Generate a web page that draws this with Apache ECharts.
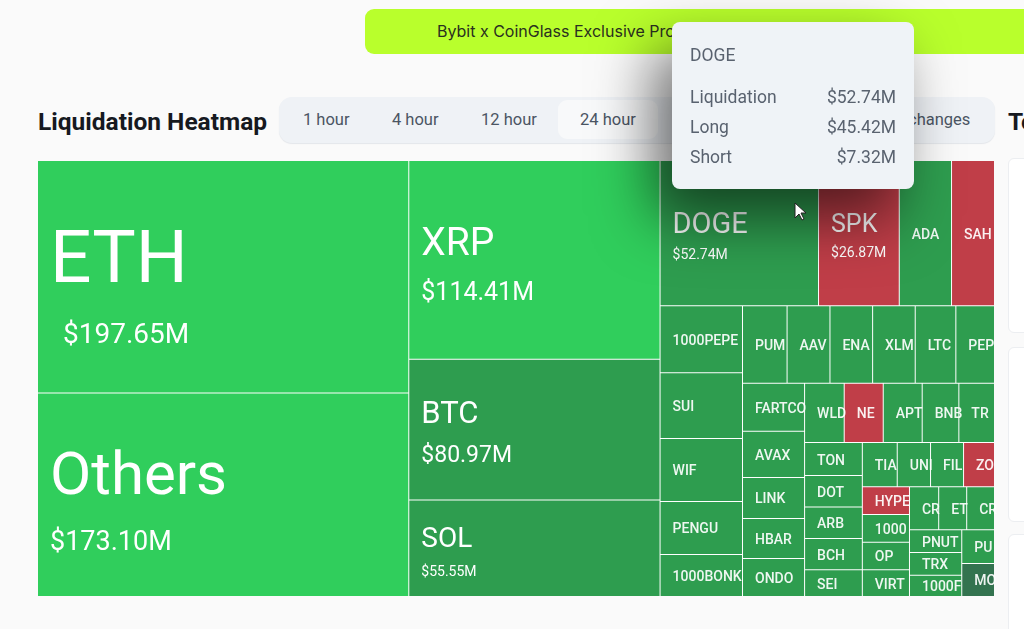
<!DOCTYPE html>
<html>
<head>
<meta charset="utf-8">
<title>Liquidation Heatmap</title>
<script src="https://cdn.jsdelivr.net/npm/echarts@6/dist/echarts.min.js"></script>
<style>
html,body{margin:0;padding:0;width:1024px;height:629px;overflow:hidden;background:#fafafa;font-family:Inter,Roboto,sans-serif}
.banner{position:absolute;left:365px;top:9px;width:700px;height:45px;background:#b9ff2c;border-radius:9px;line-height:45px;font-size:16px;color:#2a3020;white-space:nowrap}
.banner span{position:absolute;left:72px}
.title{position:absolute;left:38px;top:107px;font:700 24.5px Roboto,sans-serif;color:#16191f;white-space:nowrap}
.tabs{position:absolute;left:279px;top:97px;width:716px;height:46px;background:#eff2f6;border-radius:13px;box-shadow:0 1px 1px #e3e6ea}
.tab{position:absolute;top:3px;height:39px;font:16.5px/39px Roboto,sans-serif;color:#4b5563;white-space:nowrap}
.tab.on{left:279px;width:100px;background:#f8f9fa;border-radius:9px;text-align:center}
.side{position:absolute;left:1008px;width:60px;background:#fff;border:1px solid #eceef1;border-radius:6px}
.head{position:absolute;left:1008px;top:107px;font:700 24.5px Roboto,sans-serif;color:#16191f}
#main{position:absolute;left:0;top:0;width:1024px;height:629px;z-index:2}
.cursor{position:absolute;left:794px;top:202px;z-index:3}
</style>
</head>
<body>
<div class="banner"><span>Bybit x CoinGlass Exclusive Promo: Trade $5000 volume</span></div>
<div class="title">Liquidation Heatmap</div>
<div class="tabs">
  <div class="tab" style="left:24px">1 hour</div>
  <div class="tab" style="left:113px">4 hour</div>
  <div class="tab" style="left:202px">12 hour</div>
  <div class="tab on">24 hour</div>
  <div class="tab" style="left:629px">changes</div>
</div>
<div class="head">To</div>
<div class="side" style="top:158px;height:173px"></div>
<div class="side" style="top:347px;height:173px"></div>
<div class="side" style="top:534px;height:120px"></div>
<div id="main"></div>
<svg class="cursor" width="14" height="20" viewBox="0 0 14 20"><path d="M1 1v15l4-4 3 6 2-1-3-6h5z" fill="#fff" stroke="#222" stroke-width="1"/></svg>
<script>
var tokens = ['ETH','Others','XRP','BTC','SOL','DOGE','SPK','ADA','SAHARA',
  '1000PEPE','SUI','WIF','PENGU','1000BONK',
  'PUMP','AAVE','ENA','XLM','LTC','PEPE',
  'FARTCOIN','AVAX','LINK','HBAR','ONDO',
  'WLD','NEWT','APT','BNB','TRUMP',
  'TON','DOT','ARB','BCH','SEI',
  'TIA','UNI','FIL','ZORA',
  'HYPE','1000SATS','OP','VIRTUAL',
  'CRV','ETC','CRO',
  'PNUT','TRX','1000FLOKI',
  'PUNDIX','MOODENG'];
var liquidations = [197.65,173.10,114.41,80.97,55.55,52.74,26.87,17.4,14.3,
  12.63,12.4,11.9,10.0,7.95,
  7.9,7.6,7.56,7.55,7.2,6.85,
  6.84,6.56,5.84,5.7,5.39,
  5.38,5.3,5.29,4.98,4.84,
  4.38,4.16,4.15,4.14,3.54,
  3.53,3.37,3.34,3.13,
  3.01,2.98,2.97,2.90,
  2.88,2.76,2.74,
  2.73,2.72,2.55,
  2.53,2.48];
var bias = ['hot','hot','hot','long','long','long','short','long','short',
  'long','long','long','long','long',
  'long','long','long','long','long','long',
  'long','long','long','long','long',
  'long','short','long','long','long',
  'long','long','long','long','long',
  'long','long','long','short',
  'short','long','long','long',
  'long','long','long',
  'long','long','long',
  'long','deep'];
var tipLabels = ['Liquidation','Long','Short'];
var tipValues = ['$52.74M','$45.42M','$7.32M'];

var biasColors = {hot:'#30ce5c',long:'#2e9d4f',short:'#c03e48',deep:'#33734f'};
// name size, value size, top space, gap to the amount, extra indent of the amount
var bigLabels = {
  ETH:[73,28,59,10,13],Others:[60,27,50,9,0],XRP:[39,25,61,7,0],BTC:[31,23,37,5,0],
  SOL:[28,14,23,7,0],DOGE:[29,14,47,2,0],SPK:[25,14,50,2,0]
};

var treeData = tokens.map(function(name,i){
  var big = bigLabels[name];
  var label = {
    position:'insideLeft',distance:0,padding:[0,-5,0,12],offset:[0,2],color:'rgba(255,255,255,.92)',
    fontFamily:'Roboto',fontSize:14,fontWeight:500,overflow:'truncate',ellipsis:''
  };
  if(big){
    label.padding = [big[2],0,0,12];
    label.offset = [0,0];
    label.formatter = '{a|{b}}\n{v|$'+liquidations[i].toFixed(2)+'M}';
    label.rich = {
      a:{fontFamily:'Roboto',fontSize:big[0],fontWeight:400,lineHeight:big[0]*1.2,color:'#fff'},
      v:{fontFamily:'Roboto',fontSize:big[1],fontWeight:400,lineHeight:big[1]*1.7,color:'#fff',padding:[big[3],0,0,big[4]]}
    };
  }
  return {name:name,value:liquidations[i],label:label,
    itemStyle:{color:biasColors[bias[i]]}};
});

var myChart = echarts.init(document.getElementById('main'));
var option = {
  animation:false,
  tooltip:{
    trigger:'item',triggerOn:'none',alwaysShowContent:true,transitionDuration:0,
    padding:0,borderWidth:0,backgroundColor:'#eff3f7',
    extraCssText:'border-radius:8px;box-shadow:-18px 28px 60px rgba(0,0,0,.58);',
    position:function(){return [672,22];},
    formatter:function(){
      var rows = tipLabels.map(function(t,i){
        return '<div style="display:flex;justify-content:space-between;height:30px;line-height:30px">'+
          '<span>'+t+'</span><span>'+tipValues[i]+'</span></div>';
      }).join('');
      return '<div style="width:206px;height:131px;padding:18px;font:17.5px Roboto,sans-serif;color:#59626f">'+
        '<div style="line-height:32px;margin-bottom:11px;margin-top:-1px">DOGE</div>'+rows+'</div>';
    }
  },
  series:[{
    type:'treemap',
    left:38,top:161,width:956,height:435,
    roam:false,nodeClick:false,breadcrumb:{show:false},
    label:{show:true},
    upperLabel:{show:false},
    itemStyle:{borderColor:'#fff',borderWidth:0,gapWidth:1},
    levels:[{itemStyle:{borderWidth:0,gapWidth:1}}],
    data:treeData
  }]
};
myChart.setOption(option);
myChart.dispatchAction({type:'showTip',seriesIndex:0,dataIndex:tokens.indexOf('DOGE')+1});
</script>
</body>
</html>
